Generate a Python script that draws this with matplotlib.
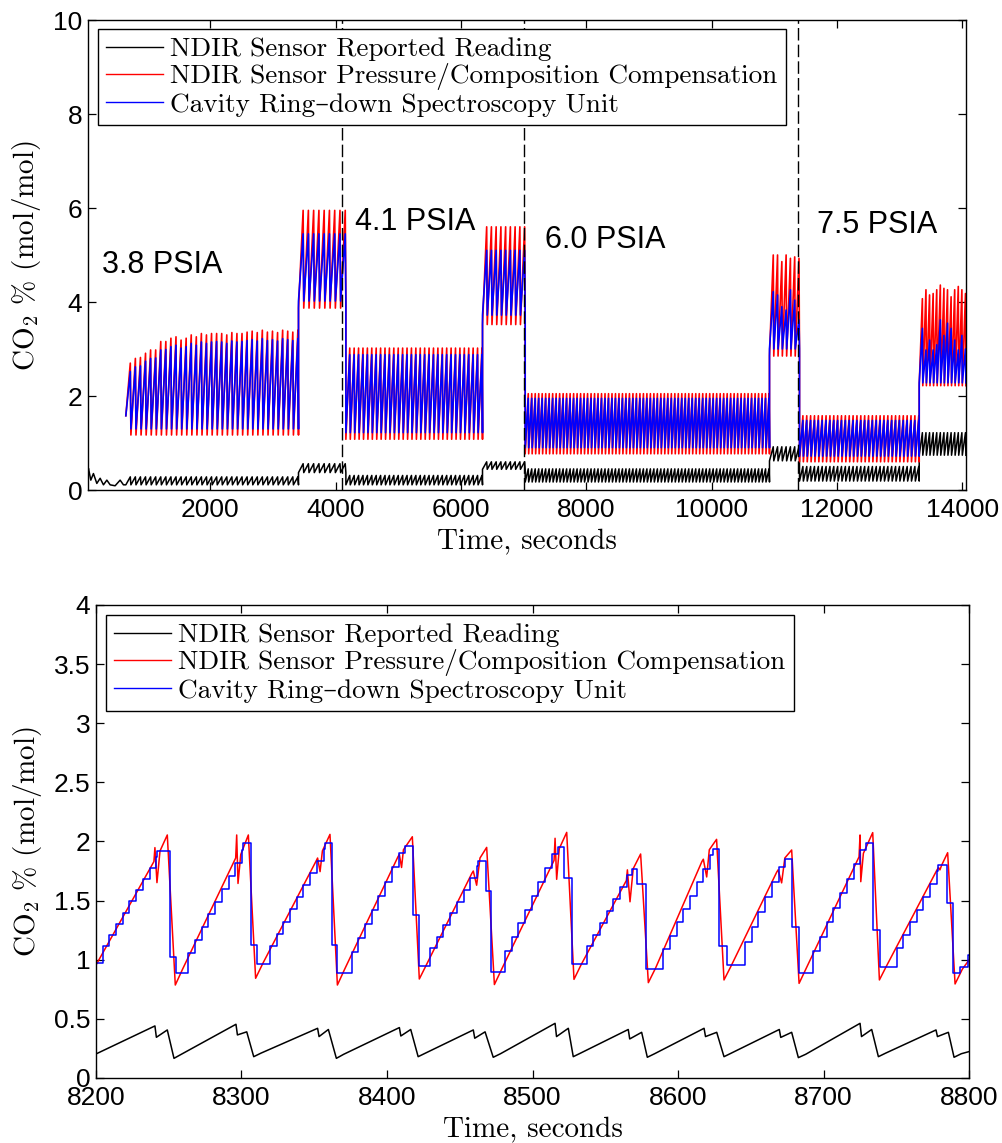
import numpy as np
import matplotlib
matplotlib.use('Agg')
import matplotlib.pyplot as plt
from matplotlib.lines import Line2D
from matplotlib.font_manager import FontProperties
from matplotlib.ticker import FormatStrFormatter

plt.rcParams['mathtext.fontset'] = 'cm'
SERIF = ['cmr10', 'DejaVu Serif']
SANS = 'Liberation Sans'

LABELS = ['NDIR Sensor Reported Reading',
          'NDIR Sensor Pressure/Composition Compensation',
          'Cavity Ring\u2013down Spectroscopy Unit']

# ---- top panel: full test, one entry per pressure step / high-CO2 block
SEG_START = [654, 3409, 4165, 6345, 7026, 10924, 11403, 13313]
SEG_END = [3409, 4165, 6345, 7026, 10924, 11403, 13313, 14058]
SEG_CYCLES = [34, 9, 31, 9, 70, 7, 31, 13]

SEG1_RED_HI = [2.70, 2.80, 2.82, 2.91, 2.98, 2.98, 3.16, 3.16, 3.23, 3.26,
               3.19, 3.23, 3.30, 3.26, 3.33, 3.30, 3.33, 3.33, 3.33, 3.30,
               3.35, 3.33, 3.33, 3.36, 3.38, 3.35, 3.40, 3.36, 3.38, 3.35,
               3.40, 3.38, 3.36, 3.40]
SEG1_BLUE_HI = [2.52, 2.62, 2.64, 2.74, 2.80, 2.81, 2.98, 2.99, 3.05, 3.08,
                3.02, 3.05, 3.12, 3.08, 3.15, 3.12, 3.15, 3.16, 3.15, 3.12,
                3.17, 3.15, 3.16, 3.18, 3.20, 3.17, 3.22, 3.18, 3.20, 3.17,
                3.22, 3.20, 3.18, 3.22]
HIGH3_RED_HI = [5.00, 5.00, 4.86, 5.00, 4.93, 4.96, 4.93]
HIGH3_BLUE_HI = [4.22, 4.15, 3.90, 3.83, 4.26, 4.04, 3.62]
HIGH4_RED_HI = [4.07, 4.26, 4.15, 4.18, 4.26, 4.36, 4.29, 4.26, 4.11, 4.26,
                4.33, 4.26, 4.18]
HIGH4_BLUE_HI = [3.44, 2.98, 3.19, 2.98, 3.09, 3.62, 3.29, 3.55, 3.44, 3.19,
                 2.98, 3.29, 3.00]

RED_LO = [1.17, 3.87, 1.08, 3.52, 0.77, 2.85, 0.60, 2.22]
RED_HI = [SEG1_RED_HI, 5.95, 3.02, 5.60, 2.05, HIGH3_RED_HI, 1.58, HIGH4_RED_HI]
BLUE_LO = [1.30, 4.02, 1.22, 3.72, 0.90, 3.00, 0.72, 2.28]
BLUE_HI = [SEG1_BLUE_HI, 5.45, 2.88, 5.10, 1.95, HIGH3_BLUE_HI, 1.48, HIGH4_BLUE_HI]
BLACK_LO = [0.11, 0.37, 0.11, 0.44, 0.17, 0.62, 0.19, 0.74]
BLACK_HI = [0.28, 0.56, 0.31, 0.60, 0.45, 0.92, 0.50, 1.22]
TRACE_START_V = [None, 1.58, 1.58]   # black, red, blue value where cycling begins

# black trace before the cycling starts
BLACK_START_T = [53, 58, 95, 137, 191, 244, 297, 351, 404, 483, 563, 616]
BLACK_START_V = [0.42, 0.46, 0.21, 0.35, 0.14, 0.25, 0.11, 0.21, 0.11, 0.09, 0.21, 0.11]

PRESSURES = ['3.8 PSIA', '4.1 PSIA', '6.0 PSIA', '7.5 PSIA']
PRESSURE_T = [271, 4313, 7345, 11680]
PRESSURE_V = [4.61, 5.53, 5.14, 5.46]
STEP_LINES = [4110, 7015, 11377]

# ---- bottom panel: 8200-8800 s, one entry per cycle
RED_PEAK_T = [8249.0, 8304.7, 8360.8, 8417.4, 8468.5, 8523.5, 8574.3, 8626.5, 8678.1, 8733.8, 8785.3]
RED_PEAK_V = [2.055, 2.055, 2.06, 2.04, 1.95, 2.077, 1.894, 2.018, 1.928, 2.075, 1.905]
RED_TROUGH_T = [8254.5, 8309.7, 8365.9, 8422.2, 8473.8, 8528.5, 8579.6, 8631.6, 8683.2, 8738.4, 8790.4]
RED_TROUGH_V = [0.786, 0.843, 0.786, 0.837, 0.79, 0.834, 0.806, 0.829, 0.80, 0.829, 0.795]
RED_KNEE_T = [8259.5, 8314.7, 8370.9, 8427.2, 8478.8, 8533.5, 8584.6, 8636.6, 8688.2, 8743.4, 8795.4]
RED_KNEE_V = [0.92, 0.97, 0.92, 0.96, 0.92, 0.96, 0.93, 0.95, 0.93, 0.95, 0.92]
RED_RAMP_T = [8239.8, 8296.0, 8351.5, 8407.5, 8458.3, 8514.8, 8564.5, 8616.4, 8667.8, 8724.4, 8778.0]
RED_RAMP_V = [1.83, 1.86, 1.84, 1.87, 1.73, 1.84, 1.67, 1.83, 1.74, 1.87, 1.76]
RED_PRE_T = [8240.5, 8296.7, 8352.3, 8408.5, 8459.3, 8515.5, 8565.2, 8617.4, 8668.8, 8725.1, 8779.0]
RED_PRE_V = [1.948, 2.055, 1.86, 1.89, 1.75, 2.027, 1.76, 1.85, 1.76, 2.055, 1.78]
RED_DIP_T = [8241.9, 8297.6, 8354.0, 8410.0, 8461.6, 8516.6, 8567.0, 8619.7, 8671.2, 8725.6, 8780.0]
RED_DIP_V = [1.652, 1.645, 1.745, 1.78, 1.63, 1.68, 1.49, 1.70, 1.65, 1.66, 1.76]
RED_POST_T = [8244.0, 8299.5, 8355.6, 8411.3, 8463.9, 8518.4, 8569.2, 8621.5, 8673.4, 8727.4, 8781.2]
RED_POST_V = [1.92, 1.89, 1.92, 1.93, 1.86, 1.94, 1.77, 1.93, 1.86, 1.90, 1.80]
RED_FIRST = (8200, 0.955)
RED_LAST = (8800, 0.998)

BLUE_TOP_T = [8241.7, 8301.3, 8357.4, 8412.4, 8462.8, 8517.7, 8568.2, 8623.8, 8673.5, 8729.2, 8778.9]
BLUE_TOP_V = [1.92, 1.985, 1.99, 1.96, 1.838, 1.95, 1.767, 1.94, 1.852, 1.99, 1.80]
BLUE_MID_T = [8250.9, 8306.5, 8362.0, 8417.7, 8467.8, 8521.9, 8571.6, 8628.4, 8678.6, 8734.2, 8784.7]
BLUE_MID_V = [1.026, 1.125, 1.125, 1.378, 1.584, 1.694, 1.643, 1.119, 1.28, 1.25, 1.477]
BLUE_LOW_T = [8255.0, 8310.4, 8365.9, 8422.0, 8471.2, 8527.4, 8577.8, 8633.4, 8683.4, 8738.8, 8789.2]
BLUE_LOW_V = [0.89, 0.964, 0.884, 0.947, 0.897, 0.961, 0.919, 0.955, 0.89, 0.941, 0.89]
BLUE_RISE_T = [8258.9, 8315.0, 8371.1, 8425.0, 8476.5, 8532.6, 8585.3, 8641.5, 8688.4, 8745.7, 8793.8]
BLUE_FIRST = (8200, 0.97)
BLUE_TAIL_T = [8793.8, 8799.0, 8800.0]
BLUE_TAIL_V = [0.94, 1.04, 1.04]
BLUE_STEP = 4.6

BLACK_PEAK_T = [8240.5, 8296.2, 8352.3, 8408.5, 8459.3, 8515.5, 8565.8, 8617.9, 8669.6, 8725.1, 8777.3]
BLACK_PEAK_V = [0.44, 0.454, 0.42, 0.426, 0.406, 0.462, 0.41, 0.42, 0.41, 0.462, 0.406]
BLACK_NOTCH_V = [0.344, 0.364, 0.35, 0.355, 0.336, 0.35, 0.33, 0.35, 0.343, 0.35, 0.35]
BLACK_HUMP_T = [8249.0, 8303.6, 8359.7, 8416.3, 8467.4, 8524.6, 8575.0, 8626.6, 8678.1, 8733.1, 8785.8]
BLACK_HUMP_V = [0.406, 0.39, 0.41, 0.41, 0.39, 0.42, 0.386, 0.386, 0.386, 0.41, 0.386]
BLACK_TROUGH_T = [8253.6, 8308.4, 8365.2, 8421.4, 8473.0, 8528.0, 8578.9, 8631.6, 8682.7, 8737.7, 8789.7]
BLACK_TROUGH_V = [0.166, 0.18, 0.166, 0.18, 0.175, 0.18, 0.175, 0.18, 0.172, 0.18, 0.175]
BLACK_KNEE_V = [0.20, 0.21, 0.20, 0.21, 0.205, 0.21, 0.205, 0.21, 0.20, 0.21, 0.205]
BLACK_FIRST = (8200, 0.203)
BLACK_LAST = (8800, 0.223)


def sawtooth(t0, t1, n, lo, hi, rise=0.88):
    per = (t1 - t0) / n
    lo = np.broadcast_to(np.asarray(lo, float), (n,))
    hi = np.broadcast_to(np.asarray(hi, float), (n,))
    t, v = [], []
    for k in range(n):
        a = t0 + k * per
        t += [a, a + rise * per]
        v += [lo[k], hi[k]]
    t.append(t1)
    v.append(lo[-1])
    return t, v


def full_trace(lo_list, hi_list, t=None, v=None, first=None):
    t = [] if t is None else list(t)
    v = [] if v is None else list(v)
    for i in range(len(SEG_START)):
        ts, vs = sawtooth(SEG_START[i], SEG_END[i], SEG_CYCLES[i], lo_list[i], hi_list[i])
        if i == 0 and first is not None:
            vs[0] = first
        t += ts
        v += vs
    return t, v


def staircase(t0, t1, lo, hi):
    # sample-and-hold steps of the CRDS unit, centred on the rising ramp
    ts = np.arange(t0, t1, BLUE_STEP)
    n = len(ts)
    return list(ts), [lo] + [lo + (hi - lo) * (j + 0.5) / n for j in range(1, n)]


def style_axes(ax):
    ax.tick_params(direction='in', length=6, width=0.9, top=True, right=True,
                   labelsize=19)
    ax.tick_params(axis='x', pad=6)
    ax.tick_params(axis='y', pad=4)
    for lab in ax.get_xticklabels() + ax.get_yticklabels():
        lab.set_family(SANS)
    for s in ax.spines.values():
        s.set_linewidth(1.0)
    ax.set_xlabel('Time, seconds', family=SERIF, fontsize=21, labelpad=5)
    ax.set_ylabel('CO$_2$ % (mol/mol)', family=SERIF, fontsize=21, labelpad=7)


def add_legend(ax, anchor):
    handles = [Line2D([], [], color=c, lw=1.0) for c in ('k', 'r', 'b')]
    leg = ax.legend(handles, LABELS, loc='upper left', bbox_to_anchor=anchor,
                    borderaxespad=0, prop=FontProperties(family=SERIF, size=19.6),
                    fancybox=False, framealpha=1, edgecolor='k', borderpad=0.3,
                    labelspacing=0.08, handlelength=2.1, handletextpad=0.25)
    leg.get_frame().set_linewidth(1.0)
    leg.set_zorder(10)


fig = plt.figure(figsize=(10.02, 11.43), dpi=100)

# top panel
ax1 = fig.add_axes([0.0878, 0.5713, 0.8763, 0.4112])
bt, bv = full_trace(BLACK_LO, BLACK_HI, BLACK_START_T, BLACK_START_V)
rt, rv = full_trace(RED_LO, RED_HI, first=TRACE_START_V[1])
ut, uv = full_trace(BLUE_LO, BLUE_HI, first=TRACE_START_V[2])
ax1.plot(bt, bv, color='k', lw=1.1)
ax1.plot(rt, rv, color='r', lw=1.2)
ax1.plot(ut, uv, color='b', lw=1.2)
for x in STEP_LINES:
    ax1.axvline(x, color='k', lw=1.0, dashes=(9, 3), zorder=5)
for txt, x, y in zip(PRESSURES, PRESSURE_T, PRESSURE_V):
    ax1.text(x, y, txt, family=SANS, fontsize=22, ha='left', va='baseline')
ax1.set_xlim(50, 14060)
ax1.set_ylim(0, 10)
ax1.set_xticks(range(2000, 14001, 2000))
ax1.set_yticks(range(0, 11, 2))
style_axes(ax1)
add_legend(ax1, (0.0114, 0.981))

# bottom panel
ax2 = fig.add_axes([0.0958, 0.0569, 0.8713, 0.4138])

rt = [RED_FIRST[0]]
rv = [RED_FIRST[1]]
for k in range(len(RED_PEAK_T)):
    rt += [RED_RAMP_T[k], RED_PRE_T[k], RED_DIP_T[k], RED_POST_T[k],
           RED_PEAK_T[k], RED_TROUGH_T[k], RED_KNEE_T[k]]
    rv += [RED_RAMP_V[k], RED_PRE_V[k], RED_DIP_V[k], RED_POST_V[k],
           RED_PEAK_V[k], RED_TROUGH_V[k], RED_KNEE_V[k]]
rt.append(RED_LAST[0])
rv.append(RED_LAST[1])

ut, uv = staircase(BLUE_FIRST[0], BLUE_TOP_T[0], BLUE_FIRST[1], BLUE_TOP_V[0])
for k in range(len(BLUE_TOP_T)):
    ut += [BLUE_TOP_T[k], BLUE_MID_T[k], BLUE_LOW_T[k]]
    uv += [BLUE_TOP_V[k], BLUE_MID_V[k], BLUE_LOW_V[k]]
    if k + 1 < len(BLUE_TOP_T):
        st, sv = staircase(BLUE_RISE_T[k], BLUE_TOP_T[k + 1], BLUE_LOW_V[k], BLUE_TOP_V[k + 1])
        ut += st[1:]
        uv += sv[1:]
ut += BLUE_TAIL_T
uv += BLUE_TAIL_V

kt = [BLACK_FIRST[0]]
kv = [BLACK_FIRST[1]]
for k in range(len(BLACK_PEAK_T)):
    kt += [BLACK_PEAK_T[k], BLACK_PEAK_T[k] + 1.0, BLACK_HUMP_T[k], BLACK_TROUGH_T[k], BLACK_TROUGH_T[k] + 5.0]
    kv += [BLACK_PEAK_V[k], BLACK_NOTCH_V[k], BLACK_HUMP_V[k], BLACK_TROUGH_V[k], BLACK_KNEE_V[k]]
kt.append(BLACK_LAST[0])
kv.append(BLACK_LAST[1])

ax2.plot(kt, kv, color='k', lw=1.1)
ax2.plot(rt, rv, color='r', lw=1.1)
ax2.plot(ut, uv, color='b', lw=1.1, drawstyle='steps-post')
ax2.set_xlim(8200, 8800)
ax2.set_ylim(0, 4)
ax2.set_xticks(range(8200, 8801, 100))
ax2.set_yticks(np.arange(0, 4.01, 0.5))
ax2.yaxis.set_major_formatter(FormatStrFormatter('%g'))
style_axes(ax2)
add_legend(ax2, (0.0115, 0.979))

fig.savefig('out.png', dpi=100)
